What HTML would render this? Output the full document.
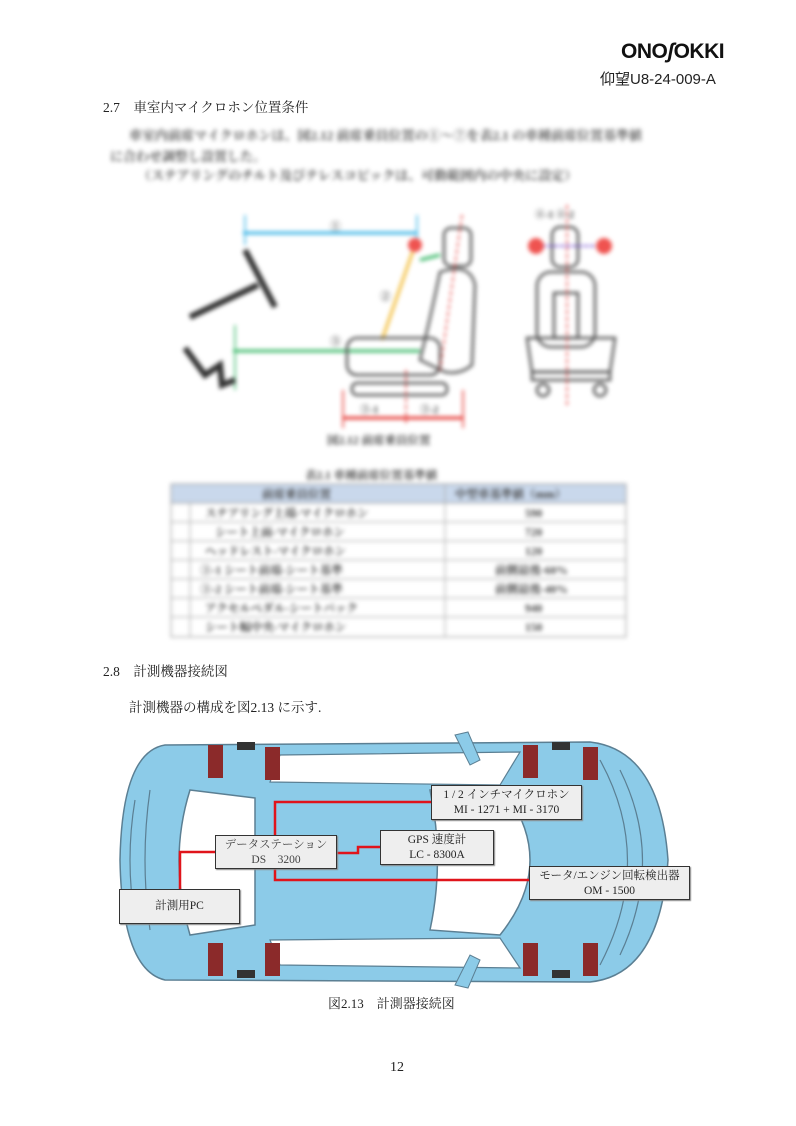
<!DOCTYPE html>
<html><head><meta charset="utf-8"><style>
body{margin:0;background:#fff;}
.pg{position:relative;width:796px;height:1126px;overflow:hidden;font-family:"Liberation Serif","Noto Serif CJK SC",serif;color:#222;}
.t{position:absolute;white-space:nowrap;}
.blur{filter:blur(2px);}
.box{position:absolute;background:#eeeeee;border:1.5px solid #333;text-align:center;font-size:11.5px;line-height:15px;box-sizing:border-box;box-shadow:1px 1px 1px #888;}
</style></head><body><div class="pg">
<div class="t" style="left:621px;top:40px;font-family:'Liberation Sans',sans-serif;font-weight:bold;font-size:21px;letter-spacing:-0.5px;color:#111;">ONO<span style="font-style:italic">ʃ</span>OKKI</div>
<div class="t" style="left:600px;top:68px;font-family:'Liberation Sans','Noto Sans CJK JP',sans-serif;font-size:15px;">仰望U8-24-009-A</div>
<div class="t" style="left:103px;top:96px;font-size:13.5px;">2.7　車室内マイクロホン位置条件</div>
<div class="blur">
<div class="t" style="left:129px;top:125px;font-size:13px;color:#555;font-weight:bold;">車室内前席マイクロホンは、図2.12 前席乗員位置の①～⑦を表2.1 の車種前席位置基準値</div>
<div class="t" style="left:110px;top:146px;font-size:13px;color:#555;font-weight:bold;">に合わせ調整し設置した。</div>
<div class="t" style="left:138px;top:165px;font-size:13px;color:#555;font-weight:bold;">（ステアリングのチルト及びテレスコピックは、可動範囲内の中央に設定）</div>
<svg style="position:absolute;left:0;top:0" width="796" height="660">
<g fill="none" stroke-width="3">
<line x1="243" y1="233" x2="417" y2="233" stroke="#3cb4e6"/>
<line x1="245" y1="215" x2="245" y2="245" stroke="#3cb4e6" stroke-width="1.5"/>
<line x1="417" y1="215" x2="417" y2="245" stroke="#3cb4e6" stroke-width="1.5"/>
<line x1="233" y1="351" x2="420" y2="351" stroke="#3cb96a"/>
<line x1="235" y1="325" x2="235" y2="390" stroke="#3cb96a" stroke-width="1.5"/>
<line x1="382" y1="340" x2="415" y2="245" stroke="#f3c044"/>
<line x1="420" y1="260" x2="440" y2="255" stroke="#3cb96a"/>
<line x1="190" y1="317" x2="258" y2="285" stroke="#333" stroke-width="6"/>
<line x1="245" y1="250" x2="275" y2="307" stroke="#333" stroke-width="6"/>
<polyline points="185,348 205,375 220,365 222,385 235,380" stroke="#333" stroke-width="6"/>
<rect x="444" y="228" width="27" height="38" rx="7" stroke="#555" stroke-width="2.5"/>
<path d="M440,272 Q470,262 475,285 L472,365 Q460,375 445,372 L420,360 Q430,320 440,272 Z" stroke="#555" stroke-width="2.5"/>
<rect x="347" y="338" width="93" height="37" rx="10" stroke="#555" stroke-width="2.5"/>
<rect x="352" y="383" width="95" height="12" rx="5" stroke="#555" stroke-width="2.5"/>
<line x1="343" y1="418" x2="463" y2="418" stroke="#e53935"/>
<line x1="343" y1="390" x2="343" y2="428" stroke="#e53935" stroke-width="1.5"/>
<line x1="463" y1="390" x2="463" y2="428" stroke="#e53935" stroke-width="1.5"/>
<line x1="406" y1="370" x2="406" y2="425" stroke="#e53935" stroke-width="1.5" stroke-dasharray="4 3"/>
<line x1="462" y1="215" x2="440" y2="370" stroke="#e53935" stroke-width="1.5" stroke-dasharray="4 3"/>
<rect x="552" y="227" width="26" height="40" rx="8" stroke="#555" stroke-width="2.5"/>
<rect x="537" y="272" width="58" height="75" rx="14" stroke="#555" stroke-width="2.5"/>
<rect x="554" y="293" width="24" height="45" stroke="#555" stroke-width="2.5"/>
<path d="M527,338 L615,338 L610,372 L532,372 Z" stroke="#555" stroke-width="2.5"/>
<rect x="532" y="372" width="78" height="8" stroke="#555" stroke-width="2.5"/>
<circle cx="543" cy="390" r="6" stroke="#555" stroke-width="2.5"/>
<circle cx="600" cy="390" r="6" stroke="#555" stroke-width="2.5"/>
<line x1="536" y1="246" x2="604" y2="246" stroke="#7a55d4" stroke-width="2" stroke-dasharray="4 2"/>
<line x1="567" y1="205" x2="567" y2="405" stroke="#e53935" stroke-width="1.5" stroke-dasharray="4 3"/>
</g>
<circle cx="415" cy="245" r="7" fill="#ef5350"/>
<circle cx="536" cy="246" r="8" fill="#ef5350"/>
<circle cx="604" cy="246" r="8" fill="#ef5350"/>
<g fill="#444" font-weight="bold">
<text x="380" y="300" font-size="11">②</text>
<text x="330" y="230" font-size="11">①</text>
<text x="330" y="345" font-size="11">⑤</text>
<text x="535" y="218" font-size="10">④-1 ④-2</text>
<text x="360" y="413" font-size="10">③-1</text>
<text x="420" y="413" font-size="10">③-2</text>
<text x="327" y="444" font-size="11.5">図2.12 前席乗員位置</text>
<text x="305" y="479" font-size="11.5">表2.1 車種前席位置基準値</text>
</g>
<rect x="171" y="484" width="455" height="153" fill="#fff" stroke="#999"/>
<rect x="171" y="484" width="455" height="19" fill="#c9d8ec" stroke="#999"/>
<g stroke="#aaa" stroke-width="1">
<line x1="171" y1="522" x2="626" y2="522"/><line x1="171" y1="541" x2="626" y2="541"/><line x1="171" y1="560" x2="626" y2="560"/><line x1="171" y1="579" x2="626" y2="579"/><line x1="171" y1="598" x2="626" y2="598"/><line x1="171" y1="617" x2="626" y2="617"/>
<line x1="445" y1="484" x2="445" y2="637"/><line x1="190" y1="503" x2="190" y2="637"/>
</g>
<g font-size="11.5" fill="#444" font-weight="bold">
<text x="262" y="498">前席乗員位置</text><text x="455" y="498">中型車基準値（mm）</text>
<text x="205" y="517">ステアリング上端-マイクロホン</text><text x="525" y="517">590</text>
<text x="215" y="536">シート上面-マイクロホン</text><text x="525" y="536">720</text>
<text x="205" y="555">ヘッドレスト-マイクロホン</text><text x="525" y="555">120</text>
<text x="200" y="574">③-1 シート前端-シート基準</text><text x="495" y="574">前側最後-60%</text>
<text x="200" y="593">③-2 シート前端-シート基準</text><text x="495" y="593">前側最後-40%</text>
<text x="205" y="612">アクセルペダル-シートバック</text><text x="525" y="612">940</text>
<text x="205" y="631">シート幅中央-マイクロホン</text><text x="525" y="631">150</text>
</g>
</svg>
</div>
<div class="t" style="left:103px;top:660px;font-size:13.5px;">2.8　計測機器接続図</div>
<div class="t" style="left:129px;top:696px;font-size:13.5px;">計測機器の構成を図2.13 に示す.</div>
<svg style="position:absolute;left:0;top:0" width="796" height="1126">
<path d="M165,745 L590,742 Q660,750 668,860 Q660,975 590,982 L165,980 Q122,970 120,860 Q122,752 165,745 Z" fill="#8ccbe8" stroke="#5b7f93" stroke-width="1.5"/>
<path d="M190,790 L255,798 L255,925 L190,935 Q168,860 190,790 Z" fill="#fff" stroke="#5b7f93" stroke-width="1.5"/>
<path d="M430,790 L500,785 Q560,860 500,935 L430,930 Q445,860 430,790 Z" fill="#fff" stroke="#5b7f93" stroke-width="1.5"/>
<path d="M280,755 L520,752 L500,785 L270,782 Z" fill="#fff" stroke="#5b7f93" stroke-width="1.2"/>
<path d="M280,965 L520,968 L500,938 L270,940 Z" fill="#fff" stroke="#5b7f93" stroke-width="1.2"/>
<path d="M135,800 Q125,860 135,920 M150,790 Q140,860 150,930 M600,760 Q655,860 600,965 M620,770 Q665,860 620,955" fill="none" stroke="#5b7f93" stroke-width="1.2"/>
<path d="M455,735 L468,732 L480,760 L470,765 Z M455,985 L468,988 L480,960 L470,955 Z" fill="#8ccbe8" stroke="#5b7f93"/>
<g fill="#8b2a2a">
<rect x="208" y="745" width="15" height="33"/><rect x="265" y="747" width="15" height="33"/>
<rect x="523" y="745" width="15" height="33"/><rect x="583" y="747" width="15" height="33"/>
<rect x="208" y="943" width="15" height="33"/><rect x="265" y="943" width="15" height="33"/>
<rect x="523" y="943" width="15" height="33"/><rect x="583" y="943" width="15" height="33"/>
</g>
<g fill="#333"><rect x="237" y="742" width="18" height="8"/><rect x="552" y="742" width="18" height="8"/><rect x="237" y="970" width="18" height="8"/><rect x="552" y="970" width="18" height="8"/></g>
<g fill="none" stroke="#e0141b" stroke-width="2.5">
<polyline points="431,802 275,802 275,836"/>
<polyline points="215,852 180,852 180,890"/>
<polyline points="337,853 358,853 358,847 380,847"/>
<polyline points="275,869 275,880 529,880"/>
</g>
</svg>
<div class="box" style="left:431px;top:785px;width:151px;height:35px;padding-top:2px;">1 / 2 インチマイクロホン<br>MI - 1271 + MI - 3170</div>
<div class="box" style="left:215px;top:835px;width:122px;height:34px;padding-top:2px;color:#444;">データステーション<br>DS　3200</div>
<div class="box" style="left:380px;top:830px;width:114px;height:35px;padding-top:2px;">GPS 速度計<br>LC - 8300A</div>
<div class="box" style="left:529px;top:866px;width:161px;height:34px;padding-top:2px;">モータ/エンジン回転検出器<br>OM - 1500</div>
<div class="box" style="left:119px;top:889px;width:121px;height:35px;line-height:33px;">計測用PC</div>
<div class="t" style="left:328px;top:993px;font-size:13px;">図2.13　計測器接続図</div>
<div class="t" style="left:390px;top:1060px;font-size:14px;">12</div>
</div></body></html>
